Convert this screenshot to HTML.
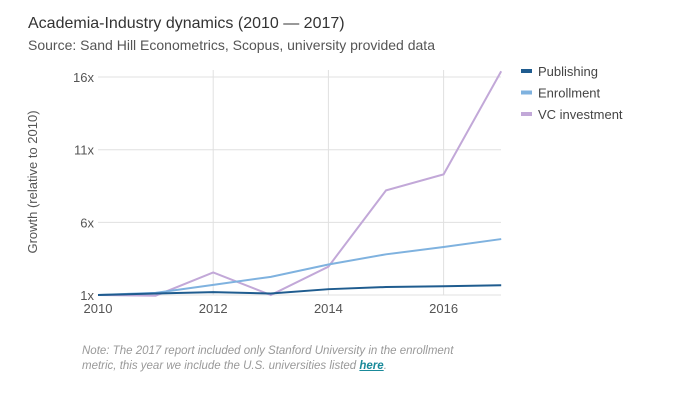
<!DOCTYPE html>
<html><head><meta charset="utf-8"><style>
body{margin:0;background:#fff;font-family:"Liberation Sans",sans-serif;}
#wrap{position:relative;width:675px;height:412px;overflow:hidden;}
.t{position:absolute;white-space:nowrap;}
</style></head><body>
<div id="wrap">
<div class="t" style="left:28px;top:15px;font-size:16px;color:#333;">Academia-Industry dynamics (2010 — 2017)</div>
<div class="t" style="left:28px;top:37px;font-size:14px;color:#555;">Source: Sand Hill Econometrics, Scopus, university provided data</div>
<svg id="chart" width="675" height="412" style="position:absolute;left:0;top:0"></svg>
<div class="t" style="left:82px;top:344px;font-size:11.5px;color:#999;font-style:italic;line-height:15px;">Note: The 2017 report included only Stanford University in the enrollment<br>metric, this year we include the U.S. universities listed <a href="#" style="color:#1a8a9a;font-weight:bold;">here</a>.</div>
</div>
<script>
const years=[2010,2011,2012,2013,2014,2015,2016,2017];
const publishing=[1,1.1,1.2,1.1,1.4,1.55,1.6,1.67];
const enrollment=[1,1.15,1.7,2.25,3.1,3.8,4.3,4.85];
const vc=[1,0.95,2.55,1.0,2.95,8.2,9.3,16.4];
const yTicks=[1,6,11,16];
const xTicks=[2010,2012,2014,2016];
const seriesNames=["Publishing","Enrollment","VC investment"];
const colors=["#1f5c8f","#7fb2df","#c2a8d8"];
const svg=document.getElementById('chart');
const NS='http://www.w3.org/2000/svg';
const x=v=>98+(v-2010)*57.6;
const y=v=>295-(v-1)*14.53;
function mk(t,a){const e=document.createElementNS(NS,t);for(const k in a)e.setAttribute(k,a[k]);svg.appendChild(e);return e;}
yTicks.forEach(v=>{
 const l=mk('line',{x1:98,x2:501,y1:y(v),y2:y(v),stroke:'#e0e0e0','stroke-width':1});
 
 
 const t=mk('text',{x:94,y:y(v)+5,'text-anchor':'end','font-size':13,fill:'#555','font-family':'Liberation Sans'});
 t.textContent=v+'x';
 
 
});
xTicks.forEach(v=>{
 if(v>2010){const l=mk('line',{x1:x(v),x2:x(v),y1:70,y2:295,stroke:'#e0e0e0','stroke-width':1});
 
 }
 const t=mk('text',{x:x(v),y:313,'text-anchor':'middle','font-size':13,fill:'#555','font-family':'Liberation Sans'});
 t.textContent=v;
 
 
});
const yt=mk('text',{x:0,y:0,transform:'translate(37,182) rotate(-90)','text-anchor':'middle','font-size':13,fill:'#555','font-family':'Liberation Sans'});
yt.textContent='Growth (relative to 2010)';


[vc,enrollment,publishing].forEach((s,i)=>{
 const ci=2-i;
 const p=mk('polyline',{points:s.map((v,j)=>x(years[j])+','+y(v)).join(' '),fill:'none',stroke:colors[ci],'stroke-width':2});
 
 
});
seriesNames.forEach((n,i)=>{
 const r=mk('rect',{x:521,y:69+i*21.5,width:11,height:4,fill:colors[i]});
 
 
 const t=mk('text',{x:538,y:76+i*21.5,'font-size':13,fill:'#444','font-family':'Liberation Sans'});
 t.textContent=n;
 
 
});
</script>
</body></html>
